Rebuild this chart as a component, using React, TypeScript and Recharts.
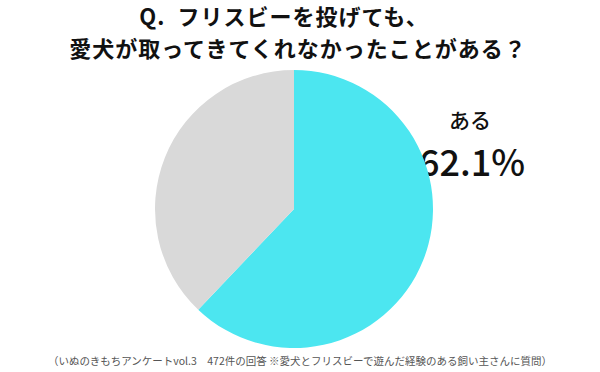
import React from "react";
import { PieChart, Pie, Cell, Customized } from "recharts";

const answers = ["ある", "ない"];
const shares = [62.1, 37.9];
const colors = ["#4ce6f0", "#d9d9d9"];
const titleLines = ["Q.\u2002フリスビーを投げても、", "愛犬が取ってきてくれなかったことがある？"];
const footnote = "（いぬのきもちアンケートvol.3　472件の回答 ※愛犬とフリスビーで遊んだ経験のある飼い主さんに質問）";

const data = answers.map((name, i) => ({ name, value: shares[i] }));

const W = 600;
const H = 372;
const jp = "'Noto Sans CJK JP', 'Noto Sans', sans-serif";

const Overlay = () => (
  <g>
    <text x={284} y={25} textAnchor="middle" fontFamily={jp} fontWeight={700} fontSize={22} letterSpacing={1} fill="#111">
      {titleLines[0]}
    </text>
    <text x={298} y={57} textAnchor="middle" fontFamily={jp} fontWeight={700} fontSize={22} letterSpacing={1} fill="#111">
      {titleLines[1]}
    </text>
    <text x={470} y={128} textAnchor="middle" fontFamily={jp} fontWeight={500} fontSize={21} fill="#111">
      {data[0].name}
    </text>
    <text x={472} y={176} textAnchor="middle" fontFamily={jp} fontWeight={500} fontSize={36} fill="#111">
      {`${data[0].value.toFixed(1)}%`}
    </text>
    <text x={300} y={365} textAnchor="middle" fontFamily={jp} fontSize={10.5} fill="#555">
      {footnote}
    </text>
  </g>
);

export default function App() {
  return (
    <div style={{ position: "absolute", left: 0, top: 0, width: W, height: H, background: "#fff" }}>
      <PieChart width={W} height={H} margin={{ top: 0, right: 0, bottom: 0, left: 0 }}>
        <Pie
          data={data}
          dataKey="value"
          nameKey="name"
          cx={294}
          cy={209}
          outerRadius={139}
          startAngle={90}
          endAngle={-270}
          stroke="none"
          isAnimationActive={false}
        >
          {data.map((d, i) => (
            <Cell key={d.name} fill={colors[i]} />
          ))}
        </Pie>
        <Customized component={Overlay} />
      </PieChart>
    </div>
  );
}
